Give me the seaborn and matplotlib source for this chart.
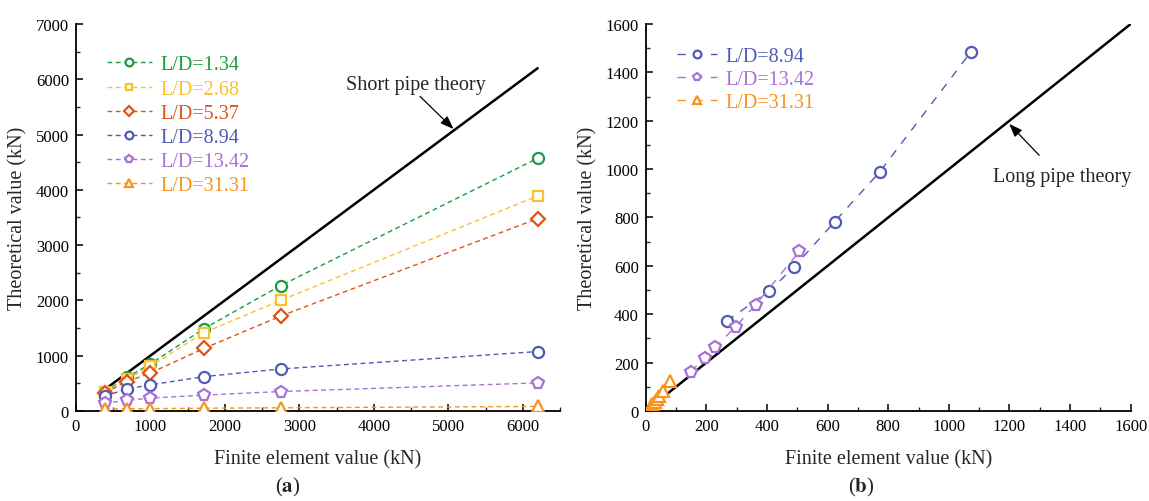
import matplotlib
matplotlib.use("Agg")
import matplotlib.pyplot as plt
import seaborn as sns
import numpy as np
from matplotlib.ticker import MultipleLocator

# ---------------- data ----------------
# (a) short pipes – finite element values (kN)
fe_a = [390, 690, 1000, 1720, 2750, 6200]
ld_134 = [352, 610, 850, 1490, 2268, 4570]
ld_268 = [340, 580, 808, 1418, 2000, 3890]
ld_537 = [330, 532, 688, 1131, 1717, 3480]
ld_894_a = [269, 400, 472, 622, 760, 1075]
ld_1342_a = [143, 191, 233, 287, 352, 508]
ld_3131_a = [40, 40, 42, 50, 58, 82]
short_theory_x = [390, 6200]
short_theory_y = [390, 6200]

# (b) long pipes
fe_894 = [267, 408, 488, 623, 773, 1073]
th_894 = [372, 496, 594, 782, 990, 1485]
fe_1342 = [148, 195, 230, 297, 363, 507]
th_1342 = [163, 218, 264, 349, 440, 660]
fe_3131 = [22, 29, 36, 44, 56, 80]
th_3131 = [28, 38, 48, 62, 82, 123]
long_theory_x = [0, 1600]
long_theory_y = [0, 1600]

labels_a = ["L/D=1.34", "L/D=2.68", "L/D=5.37", "L/D=8.94", "L/D=13.42", "L/D=31.31"]
labels_b = ["L/D=8.94", "L/D=13.42", "L/D=31.31"]

colors = {
    "L/D=1.34": "#1E9A3C",
    "L/D=2.68": "#FBC02D",
    "L/D=5.37": "#E0531A",
    "L/D=8.94": "#4F5BB5",
    "L/D=13.42": "#A870D8",
    "L/D=31.31": "#F7931E",
}
markers = {
    "L/D=1.34": "o",
    "L/D=2.68": "s",
    "L/D=5.37": "D",
    "L/D=8.94": "o",
    "L/D=13.42": "p",
    "L/D=31.31": "^",
}
msizes = {"o": 8, "s": 7, "D": 7, "p": 8.5, "^": 8}

# ---------------- style ----------------
sns.set_style("white")
plt.rcParams["font.family"] = ["Liberation Serif", "DejaVu Serif"]
plt.rcParams["mathtext.fontset"] = "stix"
plt.rcParams["xtick.direction"] = "in"
plt.rcParams["ytick.direction"] = "in"

fig = plt.figure(figsize=(11.49, 5.02), dpi=100)
ax1 = fig.add_axes([0.066, 0.1793, 0.4214, 0.771])
ax2 = fig.add_axes([0.562, 0.1793, 0.4221, 0.771])

arrow_kw = dict(arrowstyle="-|>,head_length=0.8,head_width=0.3",
                color="black", lw=0.9, shrinkA=0, shrinkB=0)

# ---------------- (a) ----------------
series_a = [ld_134, ld_268, ld_537, ld_894_a, ld_1342_a, ld_3131_a]
for lab, ys in zip(labels_a, series_a):
    m = markers[lab]
    sns.lineplot(x=fe_a, y=ys, ax=ax1, color=colors[lab], marker=m, markersize=msizes[m],
                 markerfacecolor="white", markeredgecolor=colors[lab], markeredgewidth=1.6,
                 linewidth=1.0, linestyle=(0, (3.5, 2.5)), label=lab, sort=False, zorder=3)
sns.lineplot(x=short_theory_x, y=short_theory_y, ax=ax1, color="black", linewidth=1.8,
             sort=False, zorder=2, legend=False)

ax1.set_xlim(0, 6500)
ax1.set_ylim(0, 7000)
ax1.xaxis.set_major_locator(MultipleLocator(1000))
ax1.xaxis.set_minor_locator(MultipleLocator(500))
ax1.yaxis.set_major_locator(MultipleLocator(1000))
ax1.yaxis.set_minor_locator(MultipleLocator(500))

ax1.text(4570, 5910, "Short pipe theory", ha="center", va="center", fontsize=14.5)
ax1.annotate("", xy=(5070, 5100), xytext=(4620, 5690), arrowprops=arrow_kw)

leg1 = ax1.legend(loc="upper left", bbox_to_anchor=(0.04, 0.95), frameon=False,
                  fontsize=14.5, handlelength=2.2, handletextpad=0.45,
                  labelspacing=0.25, markerscale=0.7, borderaxespad=0.2)
for txt, lab in zip(leg1.get_texts(), labels_a):
    txt.set_color(colors[lab])

# ---------------- (b) ----------------
series_b = [(fe_894, th_894), (fe_1342, th_1342), (fe_3131, th_3131)]
for lab, (xs, ys) in zip(labels_b, series_b):
    m = markers[lab]
    sns.lineplot(x=xs, y=ys, ax=ax2, color=colors[lab], marker=m, markersize=msizes[m],
                 markerfacecolor="white", markeredgecolor=colors[lab], markeredgewidth=1.6,
                 linewidth=1.0, linestyle=(0, (6, 6)), label=lab, sort=False, zorder=3)
sns.lineplot(x=long_theory_x, y=long_theory_y, ax=ax2, color="black", linewidth=1.8,
             sort=False, zorder=2, legend=False)

ax2.set_xlim(0, 1600)
ax2.set_ylim(0, 1600)
ax2.xaxis.set_major_locator(MultipleLocator(200))
ax2.xaxis.set_minor_locator(MultipleLocator(100))
ax2.yaxis.set_major_locator(MultipleLocator(200))
ax2.yaxis.set_minor_locator(MultipleLocator(100))

ax2.text(1375, 968, "Long pipe theory", ha="center", va="center", fontsize=14.5)
ax2.annotate("", xy=(1199, 1187), xytext=(1298, 1057), arrowprops=arrow_kw)

leg2 = ax2.legend(loc="upper left", bbox_to_anchor=(0.04, 0.972), frameon=False,
                  fontsize=14.5, handlelength=2.0, handletextpad=0.4,
                  labelspacing=0.2, markerscale=0.7, borderaxespad=0.2)
for txt, lab in zip(leg2.get_texts(), labels_b):
    txt.set_color(colors[lab])

# ---------------- common axes styling ----------------
for ax in (ax1, ax2):
    sns.despine(ax=ax, top=True, right=True)
    for s in ("left", "bottom"):
        ax.spines[s].set_color("black")
        ax.spines[s].set_linewidth(1.3)
    ax.tick_params(which="major", direction="in", length=5, width=1.1, labelsize=12,
                   colors="black", left=True, bottom=True, pad=5)
    ax.tick_params(which="minor", direction="in", length=3, width=1.0, left=True, bottom=True)
    ax.set_xlabel("Finite element value (kN)", fontsize=14.5, labelpad=11)
    ax.set_ylabel("Theoretical value (kN)", fontsize=14.5, labelpad=6)
    ax.grid(False)

fig.text(0.2505, 0.028, r"($\mathbf{a}$)", ha="center", va="center", fontsize=15)
fig.text(0.750, 0.028, r"($\mathbf{b}$)", ha="center", va="center", fontsize=15)

fig.savefig("out.png", dpi=100)
